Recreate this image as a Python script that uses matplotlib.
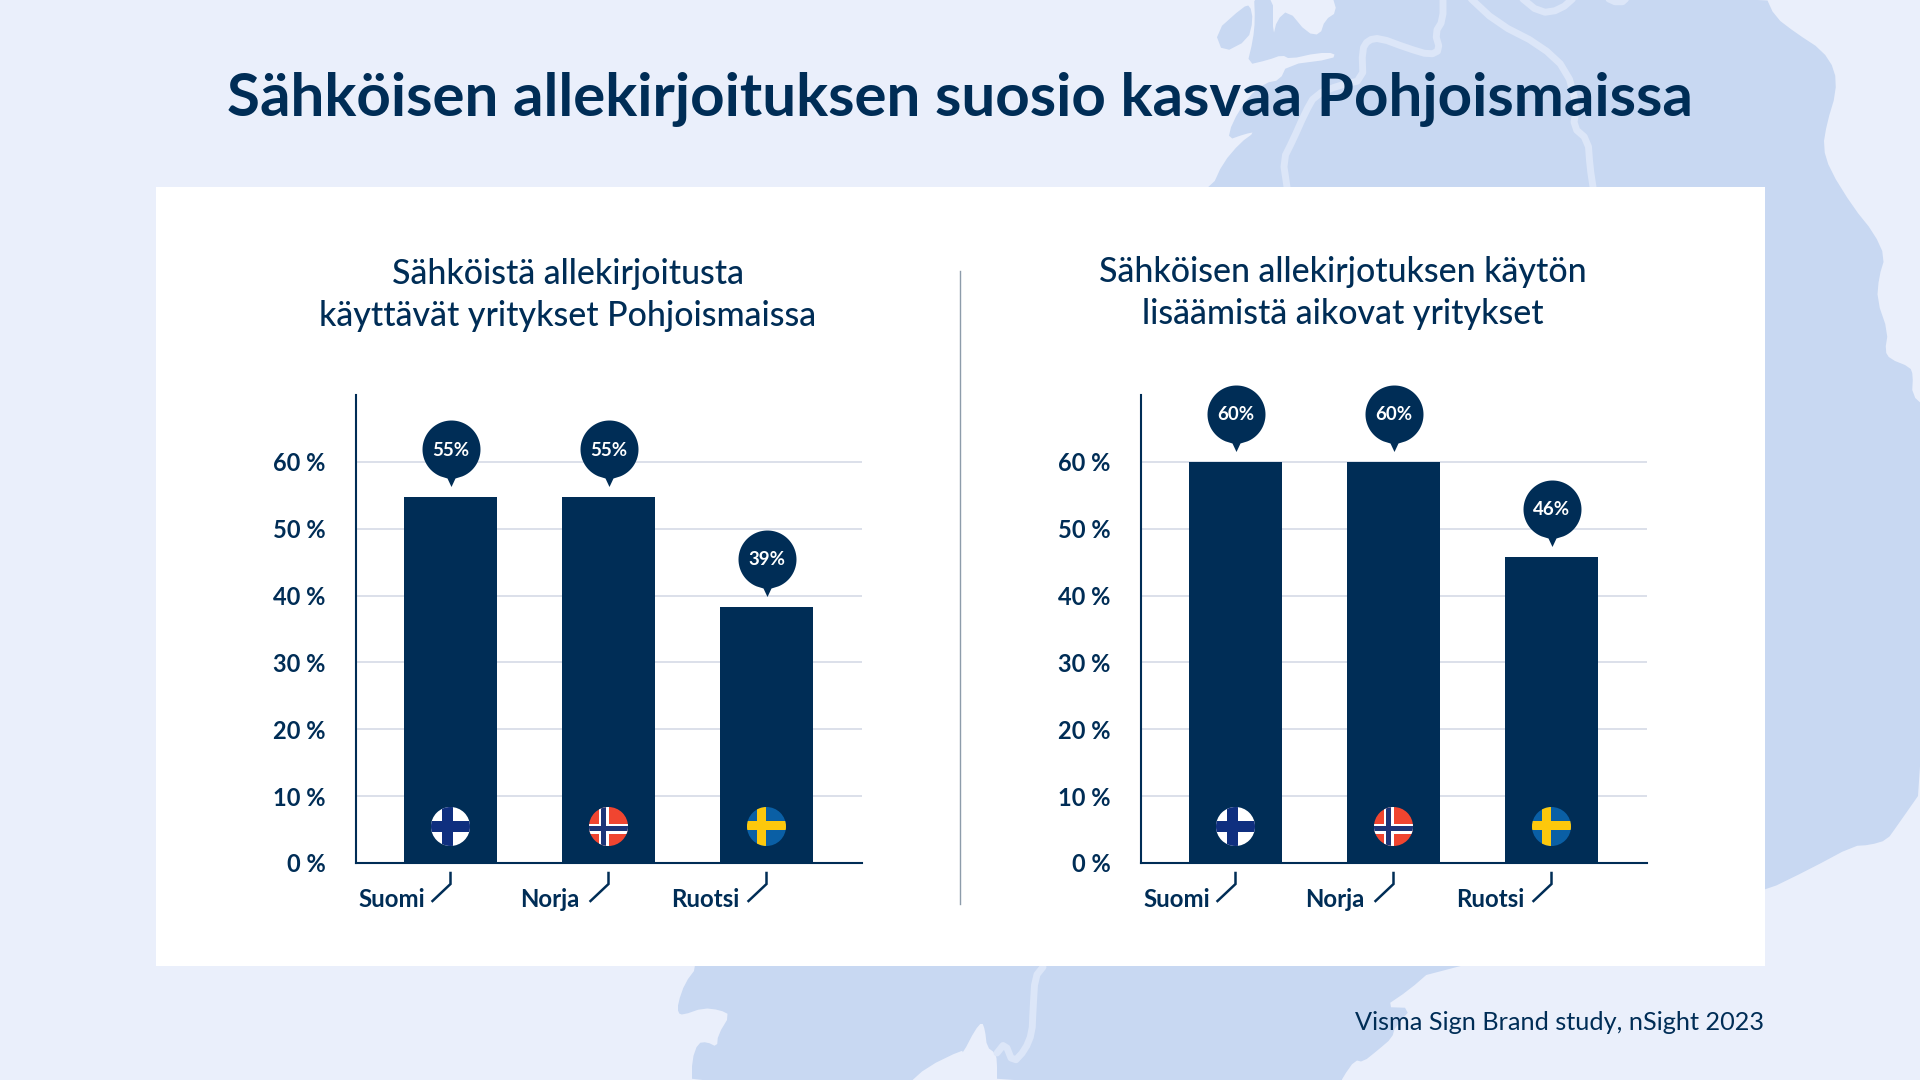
import numpy as np
from matplotlib import pyplot as plt
from matplotlib.markers import MarkerStyle
from matplotlib.patches import Circle, Polygon, Rectangle
from matplotlib.path import Path

plt.rcParams["font.family"] = ["Lato", "DejaVu Sans"]

NAVY = "#002d56"
BG = "#eaeffb"
LAND = "#c8d8f2"
RIVER = "#dce6f8"
GRID = "#d5dae6"

title = "Sähköisen allekirjoituksen suosio kasvaa Pohjoismaissa"
left_title = ["Sähköistä allekirjoitusta", "käyttävät yritykset Pohjoismaissa"]
right_title = ["Sähköisen allekirjotuksen käytön", "lisäämistä aikovat yritykset"]
source = "Visma Sign Brand study, nSight 2023"

countries = ["Suomi", "Norja", "Ruotsi"]
y_ticks = [0, 10, 20, 30, 40, 50, 60]

left_heights = [54.7, 54.7, 38.3]
left_labels = ["55%", "55%", "39%"]
right_heights = [60, 60, 45.8]
right_labels = ["60%", "60%", "46%"]

# background map outline, pixels
land_main = [
    (1212, 187), (1223, 163), (1240, 143), (1255, 132), (1245, 134), (1228, 140),
    (1232, 123), (1248, 97), (1265, 83), (1280, 80), (1287, 65), (1333, 59),
    (1335, 53), (1317, 53), (1290, 59), (1282, 55), (1268, 60), (1247, 65),
    (1253, 40), (1255, 20), (1254, -5), (1273, -5), (1273, 37), (1277, 20),
    (1288, 10), (1307, 33), (1320, 35), (1325, 20), (1337, 12), (1332, -5),
    (1765, -5), (1775, 17), (1796, 33), (1822, 50), (1835, 70), (1836, 93),
    (1827, 123), (1823, 147), (1830, 170), (1853, 207), (1874, 233), (1885, 257),
    (1879, 277), (1877, 300), (1888, 332), (1885, 351), (1890, 359), (1910, 367),
    (1913, 375), (1912, 395), (1925, 407), (1925, 786), (1897, 826), (1887, 840),
    (1870, 845), (1853, 846), (1810, 869), (1765, 891), (1600, 940), (1432, 970),
    (1409, 990), (1384, 1007), (1412, 1008), (1395, 1027), (1392, 1038), (1378, 1050),
    (1363, 1062), (1355, 1060), (1343, 1077), (1340, 1085), (997, 1085), (997, 1060),
    (995, 1053), (987, 1047), (985, 1030), (982, 1022), (975, 1030), (963, 1053),
    (962, 1050), (927, 1067), (907, 1085), (692, 1085), (692, 1060), (698, 1043),
    (707, 1042), (717, 1047), (718, 1035), (730, 1015), (720, 1010), (703, 1008),
    (683, 1015), (678, 1013), (678, 1003), (685, 983), (697, 967), (750, 600),
]
land_island = [(1215, 32), (1243, 7), (1250, 5), (1253, 20), (1248, 40), (1223, 53)]
rivers = [
    [(1043, 967), (1035, 977), (1033, 1010), (1032, 1033), (1025, 1050), (1013, 1063),
     (1005, 1043), (997, 1053)],
    [(1287, 187), (1283, 160), (1293, 140), (1305, 113), (1315, 95), (1340, 85),
     (1363, 80), (1362, 50), (1368, 40), (1380, 38), (1407, 48), (1430, 55),
     (1440, 50), (1435, 33), (1443, 20), (1443, -5)],
    [(1467, -5), (1497, 23), (1540, 45), (1567, 70), (1577, 107), (1573, 127),
     (1588, 140), (1590, 167), (1593, 187)],
    [(1518, -5), (1540, 13), (1560, 10), (1577, -5)],
    [(1600, -5), (1620, 4), (1630, -5)],
]


def smooth(points, closed=False, rounds=1):
    pts = np.array(points, dtype=float)
    for _ in range(rounds):
        nxt = np.roll(pts, -1, axis=0)
        q = 0.75 * pts + 0.25 * nxt
        r = 0.25 * pts + 0.75 * nxt
        new = np.empty((len(pts) * 2, 2))
        new[0::2] = q
        new[1::2] = r
        if not closed:
            new = np.vstack([pts[0], new[:-2], pts[-1]])
        pts = new
    return pts


def bubble_marker():
    # teardrop, in pixels above the bar top
    ang = np.radians(np.linspace(-68, 248, 80))
    xs = 29 * np.cos(ang)
    ys = 48 + 29 * np.sin(ang)
    verts = np.column_stack([xs, ys])
    verts = np.vstack([verts, (-4, 19), (0, 10.5), (4, 19), verts[0]])
    verts = np.vstack([verts, (0, -77)])  # keeps the scale fixed: max abs = 77
    codes = [Path.MOVETO] + [Path.LINETO] * (len(verts) - 3) + [Path.CLOSEPOLY, Path.MOVETO]
    return MarkerStyle(Path(verts, codes))


fig = plt.figure(figsize=(19.2, 10.8), dpi=100, facecolor=BG)


def pixel_axes(zorder):
    a = fig.add_axes([0, 0, 1, 1], zorder=zorder)
    a.set_xlim(0, 1920)
    a.set_ylim(1080, 0)
    a.axis("off")
    a.patch.set_alpha(0)
    return a


back = pixel_axes(0)
front = pixel_axes(5)

back.add_patch(Polygon(smooth(land_main, closed=True), closed=True, fc=LAND, ec="none"))
back.add_patch(Polygon(smooth(land_island, closed=True), closed=True, fc=LAND, ec="none"))
for line in rivers:
    pts = smooth(line)
    back.plot(pts[:, 0], pts[:, 1], color=RIVER, lw=5, solid_capstyle="round", solid_joinstyle="round")
back.add_patch(Rectangle((155.5, 187), 1609.5, 779, fc="white", ec="none", zorder=3))
back.plot([960, 960], [271, 904], color="#8d9cab", lw=1.0, zorder=4)

back.text(960, 116, title, color=NAVY, fontsize=43.3, fontweight="bold", ha="center", va="baseline", zorder=4)
for k, (a, b) in enumerate(zip(left_title, right_title)):
    back.text(567.5, 284 + 42 * k, a, color=NAVY, fontsize=24.4, fontweight="medium", ha="center", va="baseline",
              zorder=4)
    back.text(1343, 282 + 42 * k, b, color=NAVY, fontsize=24.4, fontweight="medium", ha="center", va="baseline",
              zorder=4)
back.text(1764, 1030, source, color=NAVY, fontsize=18.2, ha="right", va="baseline", zorder=4)


def flag(cx, cy, r, kind):
    clip = Circle((cx, cy), r, transform=front.transData)
    if kind == "Suomi":
        base, cross, inner = "#ffffff", "#0f2f7f", None
        bar, off_x, off_y = 5.5, -3, 0
    elif kind == "Norja":
        base, cross, inner = "#f04530", "#ffffff", "#1c3578"
        bar, off_x, off_y = 5.0, -5, 2
    else:
        base, cross, inner = "#0a5fa5", "#fdc80c", None
        bar, off_x, off_y = 4.5, -5, -1
    vx = cx + off_x
    hy = cy + off_y
    shapes = [
        Rectangle((cx - r, cy - r), 2 * r, 2 * r, fc=base, ec="none"),
        Rectangle((vx - bar, cy - r), 2 * bar, 2 * r, fc=cross, ec="none"),
        Rectangle((cx - r, hy - bar), 2 * r, 2 * bar, fc=cross, ec="none"),
    ]
    if inner:
        shapes += [
            Rectangle((vx - bar * 0.5, cy - r), bar, 2 * r, fc=inner, ec="none"),
            Rectangle((cx - r, hy - bar * 0.5), 2 * r, bar, fc=inner, ec="none"),
        ]
    for s in shapes:
        front.add_patch(s)
        s.set_clip_path(clip)


def draw_panel(left_px, heights, labels):
    # x spacing of the bars is 158 px, axis runs 506 px wide, 468 px tall
    ax = fig.add_axes([left_px / 1920, (1080 - 863) / 1080, 506 / 1920, 468 / 1080], zorder=2)
    ax.patch.set_alpha(0)
    x = np.arange(len(countries))
    ax.set_xlim(-94.5 / 158, (506 - 94.5) / 158)
    ax.set_ylim(0, 70)
    ax.set_yticks(y_ticks)
    ax.set_yticklabels([f"{v} %" for v in y_ticks], color=NAVY, fontsize=17, fontweight="bold")
    ax.set_xticks([])
    ax.tick_params(axis="y", length=0, pad=22)
    ax.grid(axis="y", color=GRID, lw=1.2)
    ax.set_axisbelow(True)
    for side in ["top", "right"]:
        ax.spines[side].set_visible(False)
    for side in ["left", "bottom"]:
        ax.spines[side].set_color(NAVY)
        ax.spines[side].set_linewidth(1.5)

    ax.bar(x, heights, width=93 / 158, color=NAVY, zorder=2)
    ax.plot(x, heights, ls="none", marker=bubble_marker(), ms=2 * 77 * 0.72, mfc=NAVY, mec="none",
            zorder=4, clip_on=False)
    for i, lab in enumerate(labels):
        ax.annotate(lab, (x[i], heights[i]), xytext=(0, 47 * 0.72), textcoords="offset points", ha="center",
                    va="center", color="white", fontsize=13.5, fontweight="bold", zorder=5)

    fig.canvas.draw()
    text_left = [2, 164.5, 315]
    for i, name in enumerate(countries):
        cx, _ = ax.transData.transform((x[i], 0))
        flag(cx, 826.5, 19.5, name)
        front.plot([cx, cx, cx - 18], [873, 884, 901], color=NAVY, lw=1.8, solid_joinstyle="miter")
        front.text(left_px + text_left[i], 907, name, color=NAVY, fontsize=17.3, fontweight="bold",
                   ha="left", va="baseline")


draw_panel(356, left_heights, left_labels)
draw_panel(1141, right_heights, right_labels)

fig.savefig("out.png", dpi=100, facecolor=BG)
